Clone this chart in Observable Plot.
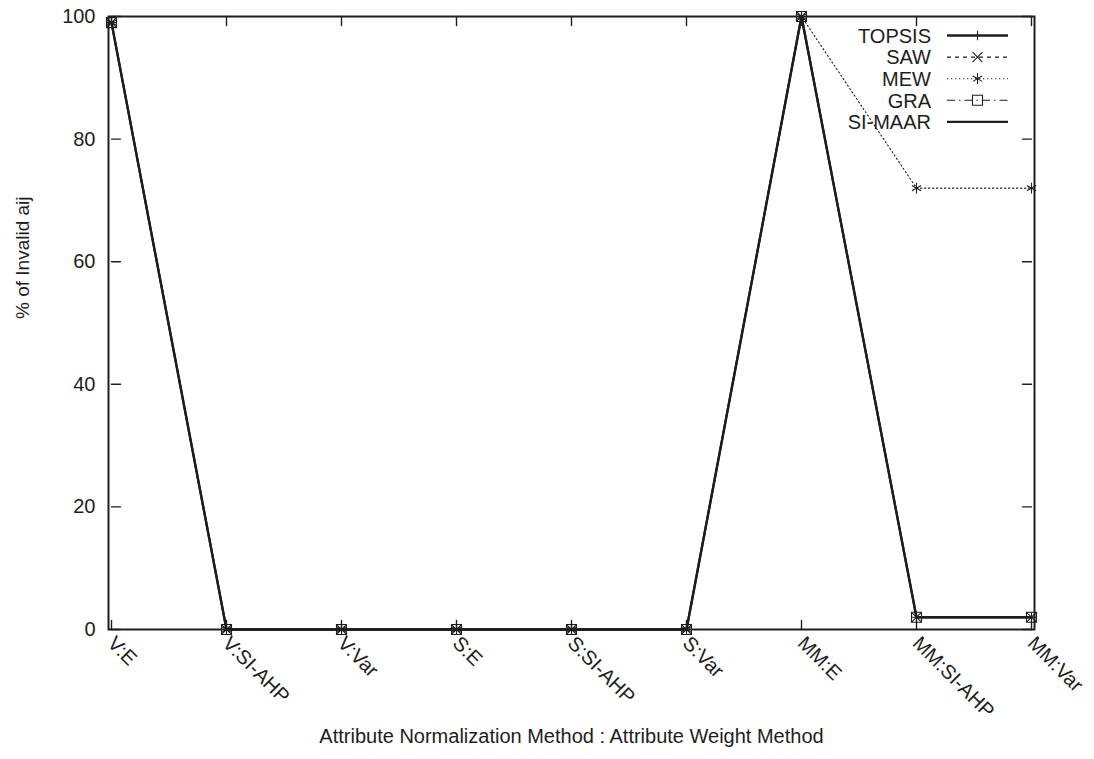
<!DOCTYPE html>
<html><head><meta charset="utf-8">
<script src="https://cdn.jsdelivr.net/npm/d3@7"></script>
<script src="https://cdn.jsdelivr.net/npm/@observablehq/plot@0.6"></script>
<style>body{margin:0;background:#fff}</style>
</head><body><div id="chart"></div>
<script>
const categories = ["V:E","V:SI-AHP","V:Var","S:E","S:SI-AHP","S:Var","MM:E","MM:SI-AHP","MM:Var"];
const topsis = [99,0,0,0,0,0,100,2,2];
const saw    = [99,0,0,0,0,0,100,2,2];
const mew    = [99,0,0,0,0,0,100,72,72];
const gra    = [99,0,0,0,0,0,100,2,2];
const simaar = [99,0,0,0,0,0,100,2,2];
const yTicks = [0,20,40,60,80,100];
const seriesNames = ["TOPSIS","SAW","MEW","GRA","SI-MAAR"];
const xTitle = "Attribute Normalization Method : Attribute Weight Method";
const yTitle = "% of Invalid aij";

const INK = "#1e1e1e";
const FONT = "Liberation Sans, Arial, Helvetica, sans-serif";
const styles = {
  "SI-MAAR": {width: 2.3, dash: null, symbol: null},
  "TOPSIS": {width: 2.3, dash: null, symbol: "plus", size: 31},
  "SAW": {width: 1.1, dash: "4,4", symbol: "times", size: 65},
  "GRA": {width: 1.1, dash: "8,4,1.5,4", symbol: "square", size: 100},
  "MEW": {width: 1.1, dash: "1.3,2.7", symbol: "asterisk", size: 80}
};
const seriesValues = {"TOPSIS": topsis, "SAW": saw, "MEW": mew, "GRA": gra, "SI-MAAR": simaar};
const drawOrder = ["SI-MAAR","TOPSIS","SAW","GRA","MEW"];

const lineShape = {draw(context, l) { context.moveTo(0, 0); context.lineTo(0, -l); }};
const tickLen = 9;

const marks = [
  Plot.frame({stroke: INK, strokeWidth: 2}),
  // y ticks (inward, left and right)
  Plot.vector(yTicks, {x: () => categories[0], y: d => d, rotate: 90, length: tickLen, anchor: "start", shape: lineShape, stroke: INK, strokeWidth: 1.4}),
  Plot.vector(yTicks, {x: () => categories[categories.length - 1], y: d => d, rotate: -90, length: tickLen, anchor: "start", shape: lineShape, stroke: INK, strokeWidth: 1.4}),
  // x ticks (inward, bottom and top)
  Plot.vector(categories, {x: d => d, y: () => 0, rotate: 0, length: tickLen, anchor: "start", shape: lineShape, stroke: INK, strokeWidth: 1.4}),
  Plot.vector(categories, {x: d => d, y: () => 100, rotate: 180, length: tickLen, anchor: "start", shape: lineShape, stroke: INK, strokeWidth: 1.4}),
  // y tick labels
  Plot.text(yTicks, {frameAnchor: "left", y: d => d, text: d => String(d), textAnchor: "end", dx: -13, fontSize: 20, fill: INK, fontFamily: FONT}),
  // x tick labels
  Plot.text(categories, {x: d => d, frameAnchor: "bottom", text: d => d, rotate: 45, textAnchor: "start", dx: -5, dy: 15, fontSize: 20, fill: INK, fontFamily: FONT}),
  // axis titles
  Plot.text([yTitle], {frameAnchor: "left", text: d => d, rotate: -90, dx: -86, dy: -4, fontSize: 19, fill: INK, fontFamily: FONT}),
  Plot.text([xTitle], {frameAnchor: "bottom", text: d => d, dy: 113, fontSize: 20, fill: INK, fontFamily: FONT})
];

for (const name of drawOrder) {
  const st = styles[name];
  const rows = categories.map((c, i) => ({cat: c, v: seriesValues[name][i]}));
  marks.push(Plot.line(rows, {x: "cat", y: "v", stroke: INK, strokeWidth: st.width, strokeDasharray: st.dash}));
}
for (const name of drawOrder) {
  const st = styles[name];
  if (!st.symbol) continue;
  const rows = categories.map((c, i) => ({cat: c, v: seriesValues[name][i]}));
  marks.push(Plot.dot(rows, {x: "cat", y: "v", symbol: () => st.symbol, r: Math.sqrt(st.size / Math.PI), stroke: INK, fill: "none", strokeWidth: 1.1}));
}

const chart = Plot.plot({
  width: 1094, height: 759,
  marginLeft: 108, marginRight: 60, marginTop: 16, marginBottom: 130,
  x: {type: "point", domain: categories, padding: 0, axis: null},
  y: {domain: [0, 100], axis: null},
  symbol: {type: "identity"},
  style: {fontFamily: FONT, background: "#fff"},
  marks
});
document.getElementById("chart").appendChild(chart);

// legend inside the plot, top-right
const svg = d3.select(chart);
const lg = svg.append("g").attr("font-family", FONT).attr("font-size", 20).attr("fill", INK);
const symMap = {plus: d3.symbolPlus, times: d3.symbolTimes, asterisk: d3.symbolAsterisk, square: d3.symbolSquare};
seriesNames.forEach((name, i) => {
  const st = styles[name];
  const y = 35.5 + i * 21.6;
  lg.append("text").attr("x", 931).attr("y", y).attr("text-anchor", "end").attr("dy", "0.36em").text(name);
  lg.append("line").attr("x1", 947).attr("x2", 1008).attr("y1", y).attr("y2", y)
    .attr("stroke", INK).attr("stroke-width", st.width).attr("stroke-dasharray", st.dash);
  if (st.symbol) {
    lg.append("path").attr("d", d3.symbol(symMap[st.symbol], st.size)())
      .attr("transform", `translate(977.5,${y})`).attr("fill", "none").attr("stroke", INK).attr("stroke-width", 1.1);
  }
});
</script>
</body></html>
